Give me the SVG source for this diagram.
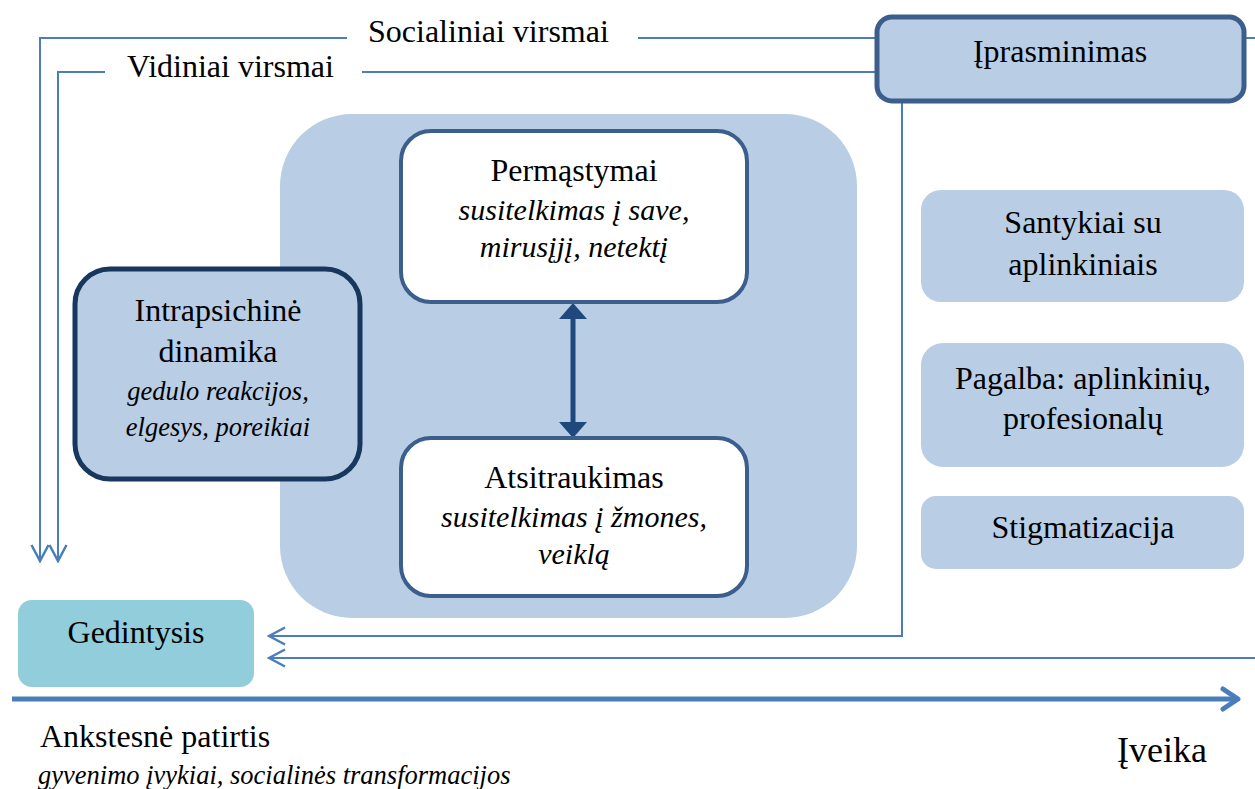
<svg xmlns="http://www.w3.org/2000/svg" width="1255" height="789" viewBox="0 0 1255 789">
<defs>
<style>
text{font-family:"Liberation Serif","Times New Roman",serif;fill:#000;}
.t{font-size:32px;}
.c{text-anchor:middle;}
.i{font-size:30px;font-style:italic;}
.s{font-size:26.5px;font-style:italic;}
.ln{fill:none;stroke:#4A7EBB;stroke-width:2;}
.light{fill:#B9CDE5;}
</style>
<marker id="open" viewBox="0 0 20 20" refX="18" refY="10" markerWidth="20" markerHeight="20" markerUnits="userSpaceOnUse" orient="auto">
<path d="M2,1.5 L18,10 L2,18.5" fill="none" stroke="#4A7EBB" stroke-width="2.5"/>
</marker>
<marker id="solid" viewBox="0 0 16 28" refX="0" refY="14" markerWidth="16" markerHeight="28" markerUnits="userSpaceOnUse" orient="auto-start-reverse">
<path d="M0,0 L16,14 L0,28 Z" fill="#1F497D"/>
</marker>
<marker id="chev" viewBox="0 0 24 26" refX="21" refY="13" markerWidth="24" markerHeight="26" markerUnits="userSpaceOnUse" orient="auto">
<path d="M6,3 L21,13 L6,23" fill="none" stroke="#4A7EBB" stroke-width="5" stroke-linecap="round" stroke-linejoin="round"/>
</marker>
</defs>

<g id="center-area">
<rect x="280" y="114" width="577" height="504" rx="72" class="light"/>
</g>

<g id="connectors">
<path class="ln" d="M347,38 H40 V561" marker-end="url(#open)"/>
<line class="ln" x1="638" y1="38" x2="878" y2="38"/>
<line class="ln" x1="1243" y1="38" x2="1255" y2="38"/>
<path class="ln" d="M105,72 H58 V561" marker-end="url(#open)"/>
<line class="ln" x1="362" y1="72" x2="878" y2="72"/>
<path class="ln" d="M902,100 V636 H269" marker-end="url(#open)"/>
<path class="ln" d="M1255,658 H269" marker-end="url(#open)"/>
<line x1="12" y1="699" x2="1238" y2="699" stroke="#4A7EBB" stroke-width="5" marker-end="url(#chev)"/>
<line x1="573" y1="319" x2="573" y2="422" stroke="#1F497D" stroke-width="5" marker-start="url(#solid)" marker-end="url(#solid)"/>
</g>

<g id="iprasminimas">
<rect x="877" y="17" width="367" height="84" rx="15" class="light" stroke="#3B5E8C" stroke-width="5"/>
<text class="t c" x="1060" y="62">Įprasminimas</text>
</g>

<g id="permastymai">
<rect x="401" y="131" width="346" height="171" rx="30" fill="#fff" stroke="#3B5E8C" stroke-width="4"/>
<text class="t c" x="574" y="181">Permąstymai</text>
<text class="i c" x="574" y="220">susitelkimas į save,</text>
<text class="i c" x="574" y="257">mirusįjį, netektį</text>
</g>

<g id="atsitraukimas">
<rect x="401" y="438" width="346" height="158" rx="30" fill="#fff" stroke="#3B5E8C" stroke-width="4"/>
<text class="t c" x="574" y="488">Atsitraukimas</text>
<text class="i c" x="574" y="527">susitelkimas į žmones,</text>
<text class="i c" x="574" y="564">veiklą</text>
</g>

<g id="intrapsichine">
<rect x="75" y="269" width="285" height="210" rx="35" class="light" stroke="#17375E" stroke-width="5"/>
<text class="t c" x="218" y="321">Intrapsichinė</text>
<text class="t c" x="218" y="362">dinamika</text>
<text class="s c" x="218" y="400">gedulo reakcijos,</text>
<text class="s c" x="218" y="436">elgesys, poreikiai</text>
</g>

<g id="santykiai">
<rect x="921" y="190" width="323" height="112" rx="20" class="light"/>
<text class="t c" x="1083" y="233">Santykiai su</text>
<text class="t c" x="1083" y="275">aplinkiniais</text>
</g>

<g id="pagalba">
<rect x="921" y="343" width="323" height="124" rx="22" class="light"/>
<text class="t c" x="1083" y="389">Pagalba: aplinkinių,</text>
<text class="t c" x="1083" y="429">profesionalų</text>
</g>

<g id="stigmatizacija">
<rect x="921" y="496" width="323" height="73" rx="15" class="light"/>
<text class="t c" x="1083" y="538">Stigmatizacija</text>
</g>

<g id="gedintysis">
<rect x="18" y="600" width="236" height="87" rx="14" fill="#92CDDC"/>
<text class="t c" x="136" y="643">Gedintysis</text>
</g>

<g id="labels">
<text class="t" x="368" y="42">Socialiniai virsmai</text>
<text class="t" x="127" y="77">Vidiniai virsmai</text>
<text class="t" x="40" y="747">Ankstesnė patirtis</text>
<text class="s" x="38" y="784">gyvenimo įvykiai, socialinės transformacijos</text>
<text x="1117" y="762" style="font-size:36px">Įveika</text>
</g>
</svg>
